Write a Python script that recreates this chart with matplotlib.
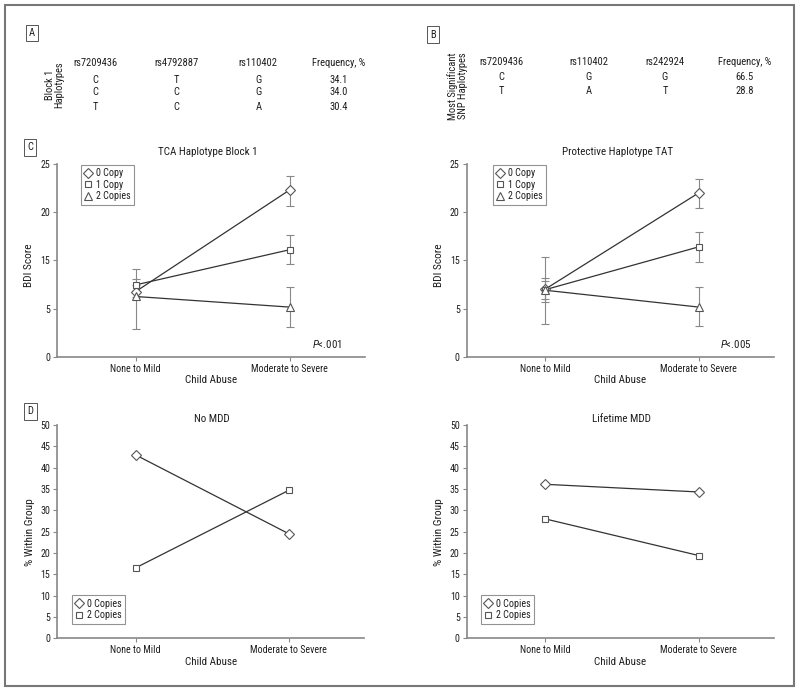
import numpy as np
import matplotlib
matplotlib.use('Agg')
import matplotlib.pyplot as plt
from matplotlib import font_manager
from matplotlib.patches import Rectangle

names = {f.name for f in font_manager.fontManager.ttflist}
fam = 'Liberation Sans'
for cand in ['Liberation Sans Narrow', 'Roboto Condensed', 'Open Sans Condensed',
             'Noto Sans Condensed', 'DejaVu Sans Condensed']:
    if cand in names:
        fam = cand
        break
k = 1.0 if fam != 'Liberation Sans' else 0.85
plt.rcParams['font.family'] = [fam, 'DejaVu Sans']
plt.rcParams['mathtext.fontset'] = 'custom'
plt.rcParams['mathtext.it'] = fam + ':italic'
plt.rcParams['mathtext.rm'] = fam

FS_TAB = 7.6 * k
FS_TICK = 7.2 * k
FS_TITLE = 7.9 * k
FS_LAB = 7.9 * k
FS_LEG = 7.2 * k

# ---- data ----
a_cols = ['rs7209436', 'rs4792887', 'rs110402', 'Frequency, %']
a_rows = [['C', 'T', 'G', '34.1'],
          ['C', 'C', 'G', '34.0'],
          ['T', 'C', 'A', '30.4']]
b_cols = ['rs7209436', 'rs110402', 'rs242924', 'Frequency, %']
b_rows = [['C', 'G', 'G', '66.5'],
          ['T', 'A', 'T', '28.8']]

categories = ['None to Mild', 'Moderate to Severe']
copies3 = ['0 Copy', '1 Copy', '2 Copies']
copies2 = ['0 Copies', '2 Copies']

# BDI y axis as printed: labels 0, 5, 15, 20, 25 evenly spaced
bdi_ticks = [0, 5, 15, 20, 25]

# TCA haplotype block 1 (mean, error low, error high)
tca_mean = [[8.5, 22.3], [9.9, 16.1], [7.5, 5.3]]
tca_lo = [[7.3, 20.6], [8.6, 14.2], [2.9, 3.1]]
tca_hi = [[9.9, 23.8], [11.2, 17.6], [13.2, 9.5]]

# protective haplotype TAT
tat_mean = [[9.0, 22.0], [8.9, 16.4], [8.8, 5.3]]
tat_lo = [[6.9, 20.4], [6.4, 14.6], [3.4, 3.2]]
tat_hi = [[10.8, 23.4], [11.4, 17.9], [15.3, 9.5]]

no_mdd = [[43.0, 24.5], [16.5, 34.7]]
life_mdd = [[36.1, 34.3], [28.0, 19.4]]

W, H = 800, 691
fig = plt.figure(figsize=(W / 100, H / 100), dpi=100)

def fx(px):
    return px / W

def fy(py):
    return 1 - py / H

TXT = '#1e1e1e'
GRAY = '#888888'
LINE = '#333333'
EDGE = '#555555'

# outer frame
fig.patches.append(Rectangle((fx(4.5), fy(685.5)), fx(789.5), 681 / H,
                             transform=fig.transFigure, fill=False,
                             ec='#777777', lw=1.5))

def panel_label(x, y, s):
    fig.text(fx(x), fy(y), s, fontsize=FS_TAB, color=TXT, ha='center', va='center',
             bbox=dict(boxstyle='square,pad=0.3', fc='white', ec='#555555', lw=0.7))

panel_label(32, 33, 'A')
panel_label(433, 34.5, 'B')
panel_label(30, 147.5, 'C')
panel_label(30.5, 411.5, 'D')

# tables A and B
for cols, rows, xs, ys in [
        (a_cols, a_rows, [95.5, 176.7, 258.3, 339], [63.3, 79.7, 92.3, 107]),
        (b_cols, b_rows, [501.2, 589, 665, 745], [62, 77.5, 90.5])]:
    for c, x in zip(cols, xs):
        fig.text(fx(x), fy(ys[0]), c, fontsize=FS_TAB, color=TXT, ha='center', va='center')
    for r, y in zip(rows, ys[1:]):
        for v, x in zip(r, xs):
            fig.text(fx(x), fy(y), v, fontsize=FS_TAB, color=TXT, ha='center', va='center')

fig.text(fx(54.5), fy(85), 'Block 1\nHaplotypes', rotation=90, fontsize=FS_TAB, color=TXT,
         ha='center', va='center', multialignment='center', linespacing=1.0)
fig.text(fx(457.5), fy(86), 'Most Significant\nSNP Haplotypes', rotation=90,
         fontsize=FS_TAB, color=TXT, ha='center', va='center', multialignment='center',
         linespacing=1.0)

lab = np.array(bdi_ticks, dtype=float)
pos = np.array([0, 5, 10, 15, 20], dtype=float)

def fwd(y):
    return np.interp(y, lab, pos)

def inv(p):
    return np.interp(p, pos, lab)

def style_axes(ax):
    for s in ['top', 'right']:
        ax.spines[s].set_visible(False)
    for s in ['left', 'bottom']:
        ax.spines[s].set_color(GRAY)
        ax.spines[s].set_linewidth(1.2)
    ax.tick_params(colors=GRAY, labelcolor=TXT, labelsize=FS_TICK, length=3, width=0.8,
                   pad=2)
    ax.set_xticks([0, 1])
    ax.set_xticklabels(categories)
    ax.set_xlim(-0.51, 1.49)
    ax.set_xlabel('Child Abuse', fontsize=FS_LAB, color=TXT)
    ax.patch.set_visible(False)

def add_legend(ax, loc, anchor):
    leg = ax.legend(loc=loc, bbox_to_anchor=anchor, borderaxespad=0,
                    fontsize=FS_LEG, frameon=True, fancybox=False, handlelength=0.8,
                    handletextpad=0.4, borderpad=0.35, labelspacing=0.15)
    leg.get_frame().set_edgecolor('#777777')
    leg.get_frame().set_linewidth(0.8)
    for t in leg.get_texts():
        t.set_color(TXT)
    return leg

markers = ['D', 's', '^']
msizes = [4.6, 5.0, 5.6]

def bdi_panel(rect, title, mean, lo, hi, ptxt, legx):
    ax = fig.add_axes(rect)
    style_axes(ax)
    ax.set_yscale('function', functions=(fwd, inv))
    ax.set_ylim(0, 25)
    ax.set_yticks(bdi_ticks)
    ax.set_yticklabels([str(t) for t in bdi_ticks])
    x = np.array([0, 1])
    for i in range(3):
        m = np.array(mean[i])
        ax.errorbar(x, m, yerr=[m - np.array(lo[i]), np.array(hi[i]) - m], fmt='none',
                    ecolor=GRAY, elinewidth=0.8, capsize=2.6, capthick=0.8, zorder=1)
    for i in range(3):
        ax.plot(x, mean[i], color=LINE, lw=0.9, zorder=2)
    for i in range(3):
        ax.plot(x, mean[i], ls='none', marker=markers[i], ms=msizes[i], mfc='white',
                mec=EDGE, mew=0.8, label=copies3[i], zorder=3)
    add_legend(ax, 'upper left', (legx, 0.997))
    ax.text(0.49, 1.06, title, transform=ax.transAxes, ha='center', va='center',
            fontsize=FS_TITLE, color=TXT)
    ax.text(0.877, 0.064, r'$\mathit{P}$<.' + ptxt, transform=ax.transAxes,
            ha='center', va='center', fontsize=FS_LAB, color=TXT)
    ax.set_ylabel('BDI Score', fontsize=FS_LAB + 0.3, color=TXT)
    ax.yaxis.set_label_coords(-0.074, 0.472)
    ax.xaxis.set_label_coords(0.5, -0.095)
    return ax

def mdd_panel(rect, title, vals, legx):
    ax = fig.add_axes(rect)
    style_axes(ax)
    ax.set_ylim(0, 50)
    ax.set_yticks(np.arange(0, 51, 5))
    x = np.array([0, 1])
    mk = ['D', 's']
    ms = [4.6, 5.0]
    for i in range(2):
        ax.plot(x, vals[i], color=LINE, lw=0.9, zorder=2)
        ax.plot(x, vals[i], ls='none', marker=mk[i], ms=ms[i], mfc='white', mec=EDGE,
                mew=0.8, label=copies2[i], zorder=3)
    add_legend(ax, 'lower left', (legx, 0.068))
    ax.text(0.503, 1.028, title, transform=ax.transAxes, ha='center', va='center',
            fontsize=FS_TITLE, color=TXT)
    ax.set_ylabel('% Within Group', fontsize=FS_LAB + 0.3, color=TXT)
    ax.yaxis.set_label_coords(-0.074, 0.5)
    ax.xaxis.set_label_coords(0.5, -0.09)
    return ax

c_bot, c_h = fy(356.7), 192.7 / H
d_bot, d_h = fy(638.3), 213.3 / H
bdi_panel([fx(57), c_bot, 308 / W, c_h], 'TCA Haplotype Block 1',
          tca_mean, tca_lo, tca_hi, '001', 0.077)
bdi_panel([fx(466.7), c_bot, 307.3 / W, c_h], 'Protective Haplotype TAT',
          tat_mean, tat_lo, tat_hi, '005', 0.085)
mdd_panel([fx(57.3), d_bot, 306.7 / W, d_h], 'No MDD', no_mdd, 0.047)
mdd_panel([fx(466.7), d_bot, 307.3 / W, d_h], 'Lifetime MDD', life_mdd, 0.046)

fig.savefig('out.png', dpi=100)
